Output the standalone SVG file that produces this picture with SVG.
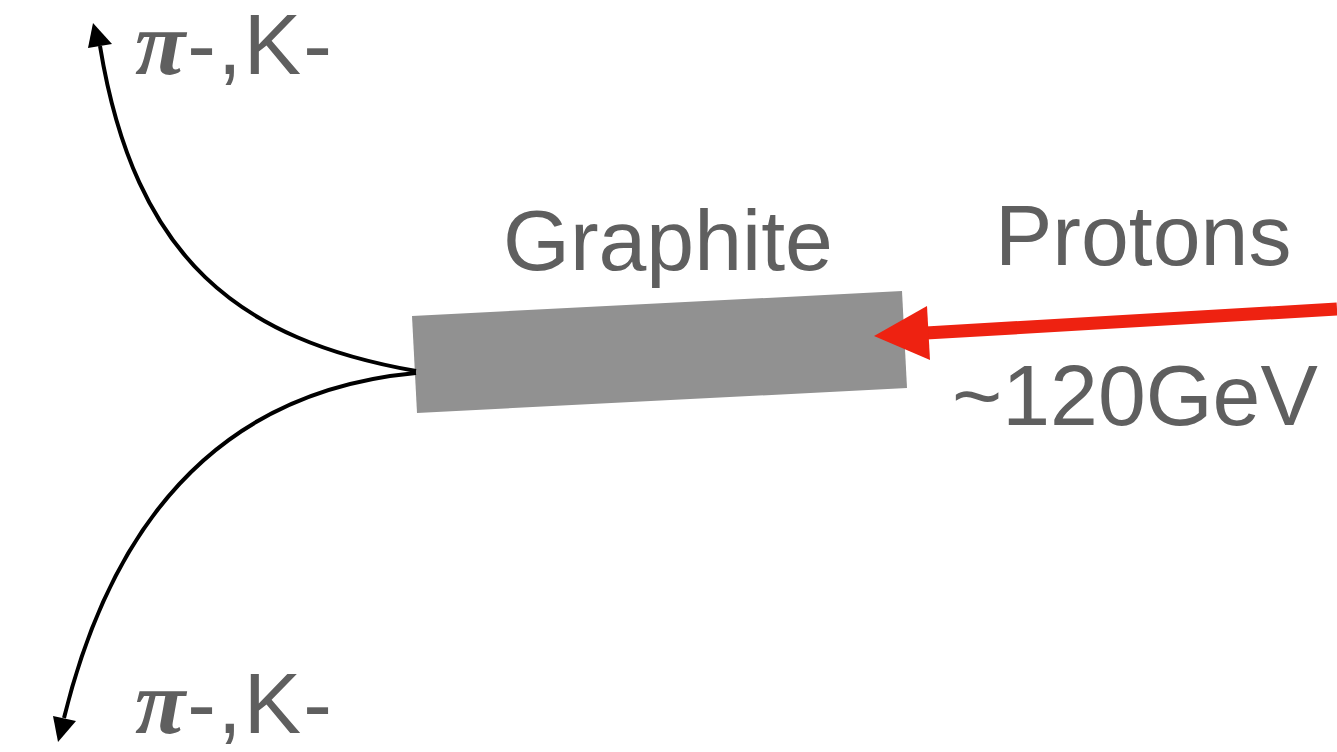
<svg xmlns="http://www.w3.org/2000/svg" width="1337" height="752" viewBox="0 0 1337 752">
<defs>
<style>
.lbl{font-family:"Liberation Sans",Arial,sans-serif;font-size:86px;fill:#5f5f5f}
.pi{font-family:"Liberation Serif","DejaVu Serif",serif;font-weight:bold;font-style:italic;font-size:92px}
.curve{fill:none;stroke:#000;stroke-width:4}
.head{fill:#000}
</style>
</defs>
<rect width="1337" height="752" fill="#fff"/>
<g id="graphite">
<polygon points="412,316 902,291 907,388 417,413" fill="#919191"/>
<text class="lbl" x="503" y="270">Graphite</text>
</g>
<g id="protons">
<text class="lbl" x="995" y="265">Protons</text>
<text class="lbl" x="952" y="425">~120GeV</text>
</g>
<g id="pk-top">
<text class="lbl" x="135" y="74" letter-spacing="2"><tspan class="pi">π</tspan>-,K-</text>
</g>
<g id="pk-bottom">
<text class="lbl" x="135" y="733" letter-spacing="2"><tspan class="pi">π</tspan>-,K-</text>
</g>
<g id="connectors">
<path class="curve" d="M416,371 C240,340 135,260 100,46"/>
<polygon class="head" points="93,23 112,44 88,48"/>
<path class="curve" d="M416,373 C230,390 115,510 64,718"/>
<polygon class="head" points="58,742 53,716 76,721"/>
<line x1="1337" y1="309" x2="926" y2="333" stroke="#ee2211" stroke-width="13"/>
<polygon points="874,336 927,306 930,360" fill="#ee2211"/>
</g>
</svg>
